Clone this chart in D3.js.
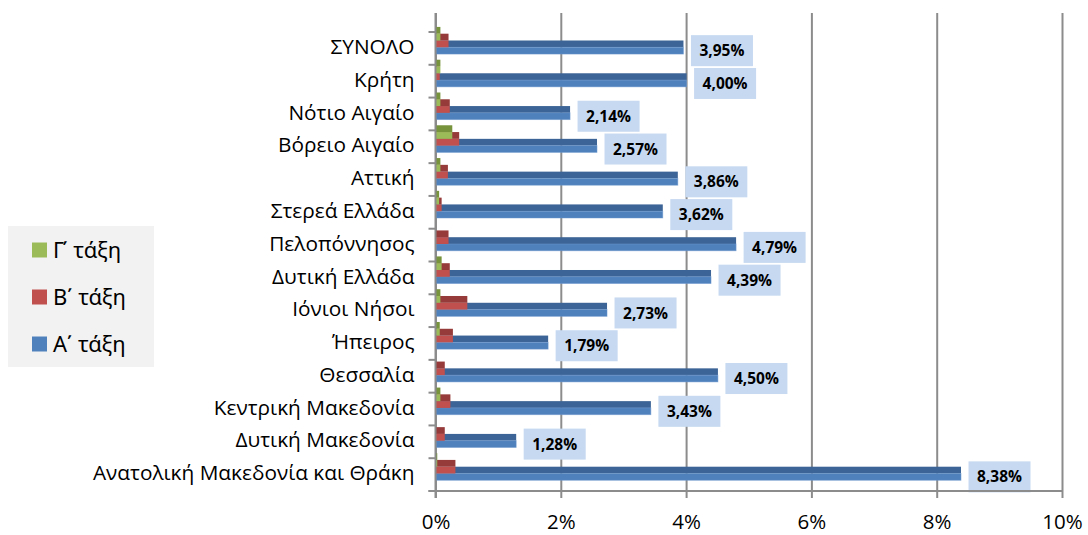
<!DOCTYPE html>
<html>
<head>
<meta charset="utf-8">
<script src="https://cdn.jsdelivr.net/npm/d3@7"></script>
<style>
  body { margin: 0; background: #fff; }
  svg { display: block; font-family: "Open Sans", "Noto Sans", sans-serif; }
</style>
</head>
<body>
<div id="chart"></div>
<script>
const categories = ["ΣΥΝΟΛΟ", "Κρήτη", "Νότιο Αιγαίο", "Βόρειο Αιγαίο", "Αττική",
  "Στερεά Ελλάδα", "Πελοπόννησος", "Δυτική Ελλάδα", "Ιόνιοι Νήσοι", "Ήπειρος",
  "Θεσσαλία", "Κεντρική Μακεδονία", "Δυτική Μακεδονία", "Ανατολική Μακεδονία και Θράκη"]

// Α΄ τάξη
const classA = [3.95, 4.00, 2.14, 2.57, 3.86, 3.62, 4.79, 4.39, 2.73, 1.79, 4.50, 3.43, 1.28, 8.38]
// Β΄ τάξη
const classB = [0.20, 0.06, 0.22, 0.37, 0.19, 0.09, 0.20, 0.22, 0.50, 0.27, 0.14, 0.23, 0.14, 0.31]
// Γ΄ τάξη
const classC = [0.07, 0.07, 0.07, 0.26, 0.07, 0.05, 0.00, 0.09, 0.07, 0.06, 0.00, 0.07, 0.00, 0.02]

const seriesNames = ["Α΄ τάξη", "Β΄ τάξη", "Γ΄ τάξη"]
const xTicks = [0, 2, 4, 6, 8, 10]

const W = 1088, H = 535

// front / top colours of the 3d bars
const colors = [
  { front: "#4f81bd", top: "#3c6496" },
  { front: "#c0504d", top: "#963b39" },
  { front: "#9bbb59", top: "#77933c" }
]

const svg = d3.select("#chart").append("svg")
  .attr("width", W)
  .attr("height", H)

const x = d3.scaleLinear().domain([0, 10]).range([435.5, 1062])
const y = d3.scaleBand().domain(categories).range([32, 491]).padding(0)

const plotTop = 13, floor = 491
const bw = y.bandwidth()
const layer = bw * 0.207

// gridlines (back wall)
svg.append("g")
  .attr("transform", `translate(0,${floor})`)
  .call(d3.axisBottom(x).tickValues(xTicks).tickSize(-(floor - plotTop)).tickFormat(""))
  .call(g => g.select(".domain").remove())
  .call(g => g.selectAll("line").attr("stroke", "#8c8c8c").attr("stroke-width", 2))

// bars
const data = categories.map((c, i) => ({ cat: c, vals: [classA[i], classB[i], classC[i]] }))

const rows = svg.append("g").selectAll("g")
  .data(data)
  .join("g")

for (let k = 0; k < 3; k++) {
  const frontY = d => y(d.cat) + bw * 0.466 - layer * k
  rows.filter(d => d.vals[k] > 0).append("rect")
    .attr("x", x(0) + 0.5)
    .attr("y", d => frontY(d) - layer)
    .attr("width", d => x(d.vals[k]) - x(0))
    .attr("height", layer)
    .attr("fill", colors[k].top)
  rows.filter(d => d.vals[k] > 0).append("rect")
    .attr("x", x(0) + 0.5)
    .attr("y", d => frontY(d))
    .attr("width", d => x(d.vals[k]) - x(0))
    .attr("height", layer)
    .attr("fill", colors[k].front)
    .attr("stroke", "#6f99cf")
    .attr("stroke-opacity", k === 0 ? 0.6 : 0)
    .attr("stroke-width", 0.8)
}

// data labels for Α΄ τάξη
const lab = rows.append("g")
  .attr("transform", d => `translate(${x(d.vals[0]) + 8},${y(d.cat) + bw * 0.466 + layer / 2})`)
lab.append("rect")
  .attr("x", 0)
  .attr("y", -15.5)
  .attr("width", 62)
  .attr("height", 31)
  .attr("fill", "#c6d9f1")
lab.append("text")
  .attr("x", 31)
  .attr("y", 0)
  .attr("dy", "0.36em")
  .attr("text-anchor", "middle")
  .attr("font-size", 15.5)
  .attr("font-weight", "bold")
  .attr("fill", "#000")
  .text(d => d.vals[0].toFixed(2).replace(".", ",") + "%")

// category axis
svg.append("line")
  .attr("x1", x(0)).attr("x2", x(0))
  .attr("y1", plotTop).attr("y2", floor + 7)
  .attr("stroke", "#8c8c8c").attr("stroke-width", 2)

svg.append("g").selectAll("line")
  .data(categories.map(c => y(c)).concat([floor]))
  .join("line")
  .attr("x1", x(0) - 7).attr("x2", x(0))
  .attr("y1", d => d).attr("y2", d => d)
  .attr("stroke", "#8c8c8c").attr("stroke-width", 2)

svg.append("g")
  .attr("transform", `translate(${x(0)},-1)`)
  .call(d3.axisLeft(y).tickSize(0).tickPadding(21))
  .call(g => g.select(".domain").remove())
  .call(g => g.selectAll("text")
    .attr("font-family", "'Open Sans', sans-serif")
    .attr("font-size", 20.8)
    .attr("fill", "#000"))

// value axis
svg.append("g")
  .attr("transform", `translate(0,${floor})`)
  .call(d3.axisBottom(x).tickValues(xTicks).tickSize(7).tickPadding(16).tickFormat(d => d + "%"))
  .call(g => g.select(".domain").attr("d", `M${x(0) - 7},0H${x(10)}`).attr("stroke", "#8c8c8c").attr("stroke-width", 2))
  .call(g => g.selectAll("line").attr("stroke", "#8c8c8c").attr("stroke-width", 2))
  .call(g => g.selectAll("text")
    .attr("font-family", "'Open Sans', sans-serif")
    .attr("font-size", 20.5)
    .attr("fill", "#000"))

// legend
const legend = svg.append("g")
legend.append("rect")
  .attr("x", 8).attr("y", 226)
  .attr("width", 146).attr("height", 141)
  .attr("fill", "#f2f2f2")

const legendItems = [2, 1, 0]
const li = legend.selectAll("g.item")
  .data(legendItems)
  .join("g")
  .attr("class", "item")
  .attr("transform", (d, i) => `translate(32,${250 + i * 47})`)
li.append("rect")
  .attr("x", 0).attr("y", -7.5)
  .attr("width", 15).attr("height", 15)
  .attr("fill", d => colors[d].front)
li.append("text")
  .attr("x", 21)
  .attr("dy", "0.36em")
  .attr("font-family", "'Noto Sans', sans-serif")
  .attr("font-size", 22)
  .attr("fill", "#000")
  .text(d => seriesNames[d])
</script>
</body>
</html>
